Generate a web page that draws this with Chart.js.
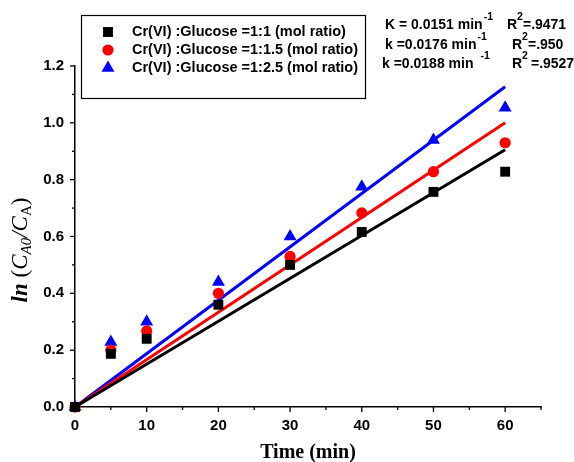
<!DOCTYPE html>
<html>
<head>
<meta charset="utf-8">
<script src="https://cdn.jsdelivr.net/npm/chart.js@4/dist/chart.umd.min.js"></script>
<style>
html,body{margin:0;padding:0;background:#fff;}
#wrap{width:574px;height:462px;position:relative;}
</style>
</head>
<body>
<div id="wrap"><canvas id="c" width="574" height="462"></canvas></div>
<script>
// ---- data ----
const times = [0, 5, 10, 20, 30, 40, 50, 60];
const ratio11 = [0, 0.187, 0.24, 0.36, 0.50, 0.616, 0.757, 0.828];
const ratio115 = [0, 0.20, 0.268, 0.40, 0.53, 0.683, 0.828, 0.93];
const ratio125 = [0, 0.229, 0.30, 0.44, 0.60, 0.775, 0.94, 1.053];
const seriesLabels = [
  'Cr(VI) :Glucose =1:1 (mol ratio)',
  'Cr(VI) :Glucose =1:1.5 (mol ratio)',
  'Cr(VI) :Glucose =1:2.5 (mol ratio)'
];
const fitX = [0, 60];
const fit11 = [0, 0.905];
const fit115 = [0, 1.0];
const fit125 = [0, 1.127];
const xTicks = [0, 5, 10, 15, 20, 25, 30, 35, 40, 45, 50, 55, 60, 65];
const yTicks = [0, 0.1, 0.2, 0.3, 0.4, 0.5, 0.6, 0.7, 0.8, 0.9, 1.0, 1.1, 1.2];
const annotLines = [
  ['K = 0.0151 min', '-1', 'R', '2', '=.9471'],
  ['k =0.0176 min', '-1', 'R', '2', '=.950'],
  ['k =0.0188 min', '-1', 'R', '2', '=.9527']
];

const colors = ['#000000', '#ff0000', '#0000ff'];
const styles = ['rect', 'circle', 'triangle'];
const radii = [7, 5.6, 7.5];
const pts = (ys) => times.map((t, i) => ({x: t, y: ys[i]}));
const fitPts = (ys) => fitX.map((t, i) => ({x: t, y: ys[i]}));

const datasets = [];
[fit11, fit115, fit125].forEach((f, i) => {
  datasets.push({
    label: 'fit' + i, data: fitPts(f), showLine: true, borderColor: colors[i],
    borderWidth: 3, pointRadius: 0, clip: false, fill: false, order: 2
  });
});
[ratio11, ratio115, ratio125].forEach((s, i) => {
  datasets.push({
    label: seriesLabels[i], data: pts(s), showLine: false, pointStyle: styles[i],
    pointRadius: radii[i], backgroundColor: colors[i], borderColor: colors[i],
    borderWidth: 0, clip: false, order: 1
  });
});

const SANS = '"Liberation Sans", Arial, sans-serif';
const SERIF = '"Liberation Serif", "Times New Roman", serif';
const tickFont = {family: SANS, size: 15, weight: 'bold'};

const decor = {
  id: 'decor',
  afterDraw(chart) {
    const ctx = chart.ctx;
    const xs = chart.scales.x, ys = chart.scales.y;
    const ca = chart.chartArea;
    ctx.save();
    ctx.strokeStyle = '#000';
    ctx.lineWidth = 1.3;
    // ticks outward
    xTicks.forEach(v => {
      const px = xs.getPixelForValue(v);
      const len = (v % 10 === 0) ? 5 : 3;
      ctx.beginPath(); ctx.moveTo(px, ca.bottom); ctx.lineTo(px, ca.bottom + len); ctx.stroke();
    });
    yTicks.forEach(v => {
      const py = ys.getPixelForValue(v);
      const len = (Math.round(v * 10) % 2 === 0) ? 5 : 3;
      ctx.beginPath(); ctx.moveTo(ca.left, py); ctx.lineTo(ca.left - len, py); ctx.stroke();
    });

    // x title
    ctx.fillStyle = '#000';
    ctx.font = 'bold 20px ' + SERIF;
    ctx.textAlign = 'center'; ctx.textBaseline = 'middle';
    ctx.fillText('Time (min)', (ca.left + ca.right) / 2, 453);

    // y title with subscripts
    ctx.save();
    ctx.translate(20, 250);
    ctx.rotate(-Math.PI / 2);
    ctx.textAlign = 'left'; ctx.textBaseline = 'alphabetic';
    const big = 23, small = 15;
    const parts = [
      {t: 'ln', f: 'italic bold ' + big + 'px ' + SERIF, dy: 0},
      {t: ' (', f: big + 'px ' + SERIF, dy: 0},
      {t: 'C', f: 'italic ' + big + 'px ' + SERIF, dy: 0},
      {t: 'A0', f: 'italic ' + small + 'px ' + SERIF, dy: 4},
      {t: '/C', f: 'italic ' + big + 'px ' + SERIF, dy: 0},
      {t: 'A', f: small + 'px ' + SERIF, dy: 4},
      {t: ')', f: big + 'px ' + SERIF, dy: 0}
    ];
    let total = 0;
    parts.forEach(p => { ctx.font = p.f; p.w = ctx.measureText(p.t).width; total += p.w; });
    let x0 = -total / 2;
    parts.forEach(p => { ctx.font = p.f; ctx.fillText(p.t, x0, 7 + p.dy); x0 += p.w; });
    ctx.restore();

    // legend box
    ctx.lineWidth = 1.2;
    ctx.strokeStyle = '#000';
    ctx.strokeRect(81.5, 15.5, 284, 83);
    const rowY = [32, 50, 68];
    ctx.font = 'bold 14.5px ' + SANS;
    ctx.textAlign = 'left'; ctx.textBaseline = 'middle';
    for (let i = 0; i < 3; i++) {
      const ds = chart.data.datasets[3 + i];
      ctx.fillStyle = ds.backgroundColor;
      Chart.helpers.drawPoint(ctx, {pointStyle: ds.pointStyle, radius: ds.pointRadius, borderWidth: 0}, 108, rowY[i]);
      ctx.fillStyle = '#000';
      ctx.fillText(ds.label, 132, rowY[i]);
    }

    // annotation
    const annY = [25, 45, 64];
    const annX = [385, 385, 382];
    const rX = [507, 512, 512];
    const supGap = [1, 1, 7];
    const eqGap = [0, 0, 3];
    annotLines.forEach((ln, i) => {
      let x = annX[i];
      ctx.font = 'bold 14px ' + SANS;
      ctx.fillText(ln[0], x, annY[i]);
      x += ctx.measureText(ln[0]).width + supGap[i];
      ctx.font = 'bold 10.5px ' + SANS;
      ctx.fillText(ln[1], x, annY[i] - 8);
      x = rX[i];
      ctx.font = 'bold 14px ' + SANS;
      ctx.fillText(ln[2], x, annY[i]);
      x += ctx.measureText(ln[2]).width;
      ctx.font = 'bold 10.5px ' + SANS;
      ctx.fillText(ln[3], x, annY[i] - 8);
      x += ctx.measureText(ln[3]).width + eqGap[i];
      ctx.font = 'bold 14px ' + SANS;
      ctx.fillText(ln[4], x, annY[i]);
    });
    ctx.restore();
  }
};

new Chart(document.getElementById('c'), {
  type: 'scatter',
  data: {datasets},
  options: {
    responsive: false,
    animation: false,
    devicePixelRatio: 1,
    layout: {padding: {left: 0, top: 66, right: 33, bottom: 0}},
    plugins: {legend: {display: false}, tooltip: {enabled: false}},
    scales: {
      x: {
        type: 'linear', min: 0, max: 65,
        afterBuildTicks: s => { s.ticks = xTicks.map(v => ({value: v})); },
        afterFit: s => { s.height = 55; },
        grid: {display: false, drawTicks: false},
        border: {display: true, color: '#000', width: 1.5},
        ticks: {
          autoSkip: false, maxRotation: 0, padding: 10, color: '#000', font: tickFont,
          callback: v => (v % 10 === 0 && v <= 60) ? String(v) : ''
        }
      },
      y: {
        type: 'linear', min: 0, max: 1.2,
        afterBuildTicks: s => { s.ticks = yTicks.map(v => ({value: v})); },
        afterFit: s => { s.width = 75; },
        grid: {display: false, drawTicks: false},
        border: {display: true, color: '#000', width: 1.5},
        ticks: {
          autoSkip: false, padding: 11, color: '#000', font: tickFont,
          callback: v => (Math.round(v * 10) % 2 === 0) ? v.toFixed(1) : ''
        }
      }
    }
  },
  plugins: [decor]
});
</script>
</body>
</html>
